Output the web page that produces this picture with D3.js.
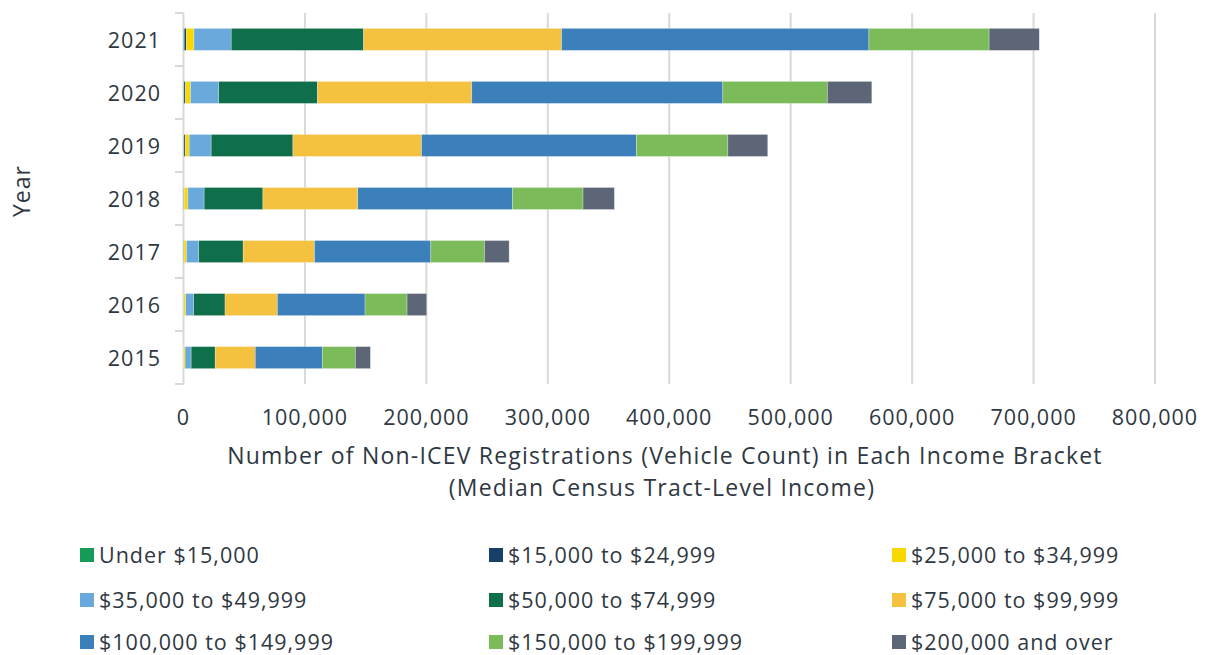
<!DOCTYPE html>
<html>
<head>
<meta charset="utf-8">
<script src="https://cdn.jsdelivr.net/npm/d3@7"></script>
<style>
  body { margin: 0; background: #fff; }
  svg { display: block; font-family: "Open Sans", Lato, sans-serif; }
  text { fill: #2f3842; letter-spacing: 1px; }
  text.title { letter-spacing: 1.2px; }
</style>
</head>
<body>
<svg id="chart"></svg>
<script>
// years top to bottom, as in the picture
const years = ['2021', '2020', '2019', '2018', '2017', '2016', '2015']

const brackets = [
    'Under $15,000', '$15,000 to $24,999', '$25,000 to $34,999',
    '$35,000 to $49,999', '$50,000 to $74,999', '$75,000 to $99,999',
    '$100,000 to $149,999', '$150,000 to $199,999', '$200,000 and over'
]
const colors = ['#169b59', '#17406b', '#f9d800', '#6aa9dc', '#106f4b',
    '#f4c23f', '#3b80ba', '#7cbb5a', '#5d6676']

// vehicle counts per bracket, same order as years
const under15k   = [600, 400, 300, 200, 150, 100, 100]
const from15k    = [1700, 1200, 1100, 400, 300, 200, 100]
const from25k    = [6300, 4100, 3300, 3000, 2000, 1500, 1100]
const from35k    = [30700, 23300, 18100, 13400, 10100, 6600, 5000]
const from50k    = [109000, 81300, 67300, 48400, 36600, 25800, 19800]
const from75k    = [163000, 127100, 105900, 78100, 58700, 43100, 33000]
const from100k   = [253100, 206700, 176900, 127500, 95800, 72200, 55200]
const from150k   = [99000, 86100, 75400, 58000, 44200, 34600, 27200]
const over200k   = [41300, 36600, 32800, 25800, 20300, 16200, 12400]

const xTicks = [0, 100000, 200000, 300000, 400000, 500000, 600000, 700000, 800000]

const series = [under15k, from15k, from25k, from35k, from50k, from75k, from100k, from150k, over200k]

let width = 1208, height = 655
let fontSize = 21.5
let $svg = d3.select('#chart').attr('width', width).attr('height', height)

let rows = years.map((y, i) => {
    let row = { year: y }
    brackets.forEach((b, j) => { row[b] = series[j][i] })
    return row
})

let scaleX = d3.scaleLinear().domain([0, 800000]).range([183.5, 1155])
let scaleY = d3.scaleBand().domain(years).range([13, 384]).paddingInner(0.585).paddingOuter(0.29)
let bandY = d3.scaleBand().domain(years).range([13, 384])

// gridlines
$svg.append('g').selectAll('line')
    .data(xTicks.slice(1))
    .join('line')
    .attr('x1', d => scaleX(d)).attr('x2', d => scaleX(d))
    .attr('y1', 13).attr('y2', 384)
    .attr('stroke', '#d9d9d9').attr('stroke-width', 2)

// y axis line + ticks at band edges
let yAxis = $svg.append('g')
yAxis.append('line')
    .attr('x1', scaleX(0)).attr('x2', scaleX(0))
    .attr('y1', 13).attr('y2', 384)
    .attr('stroke', '#d9d9d9').attr('stroke-width', 2)
yAxis.selectAll('line.tick')
    .data(years.map(y => bandY(y)).concat([384]))
    .join('line')
    .attr('class', 'tick')
    .attr('x1', 175).attr('x2', scaleX(0))
    .attr('y1', d => d).attr('y2', d => d)
    .attr('stroke', '#d9d9d9').attr('stroke-width', 2)

let stack = d3.stack().keys(brackets)(rows)

$svg.append('g').selectAll('g')
    .data(stack)
    .join('g')
    .attr('fill', (d, i) => colors[i])
    .selectAll('rect')
    .data(d => d)
    .join('rect')
    .attr('x', d => scaleX(d[0]))
    .attr('width', d => Math.max(0, scaleX(d[1]) - scaleX(d[0])))
    .attr('y', d => scaleY(d.data.year))
    .attr('height', scaleY.bandwidth())
    .attr('stroke', '#ffffff')
    .attr('stroke-opacity', 0.45)
    .attr('stroke-width', 0.6)

// year labels
$svg.append('g').selectAll('text')
    .data(years)
    .join('text')
    .attr('x', 161)
    .attr('y', d => scaleY(d) + scaleY.bandwidth() / 2 + 8.5)
    .attr('text-anchor', 'end')
    .attr('font-size', fontSize)
    .text(d => d)

// x tick labels
let fmt = d3.format(',')
$svg.append('g').selectAll('text')
    .data(xTicks)
    .join('text')
    .attr('x', d => scaleX(d))
    .attr('y', 425)
    .attr('text-anchor', 'middle')
    .attr('font-size', fontSize)
    .text(d => fmt(d))

// axis titles
$svg.append('text')
    .attr('class', 'title')
    .attr('x', 665).attr('y', 464)
    .attr('text-anchor', 'middle').attr('font-size', 23)
    .text('Number of Non-ICEV Registrations (Vehicle Count) in Each Income Bracket')
$svg.append('text')
    .attr('class', 'title')
    .attr('x', 662).attr('y', 496)
    .attr('text-anchor', 'middle').attr('font-size', 23)
    .text('(Median Census Tract-Level Income)')
$svg.append('text')
    .attr('transform', 'translate(29.5,191) rotate(-90)')
    .attr('text-anchor', 'middle').attr('font-size', 23)
    .text('Year')

// legend, 3 columns
let legendX = [80, 489, 892]
let legendY = [555, 600, 642]
let $legend = $svg.append('g').selectAll('g')
    .data(brackets)
    .join('g')
    .attr('transform', (d, i) => 'translate(' + legendX[i % 3] + ',' + legendY[Math.floor(i / 3)] + ')')
$legend.append('rect')
    .attr('x', 0).attr('y', -7).attr('width', 14).attr('height', 14)
    .attr('fill', (d, i) => colors[i])
$legend.append('text')
    .attr('x', 19).attr('y', 8)
    .attr('font-size', fontSize)
    .text(d => d)
</script>
</body>
</html>
